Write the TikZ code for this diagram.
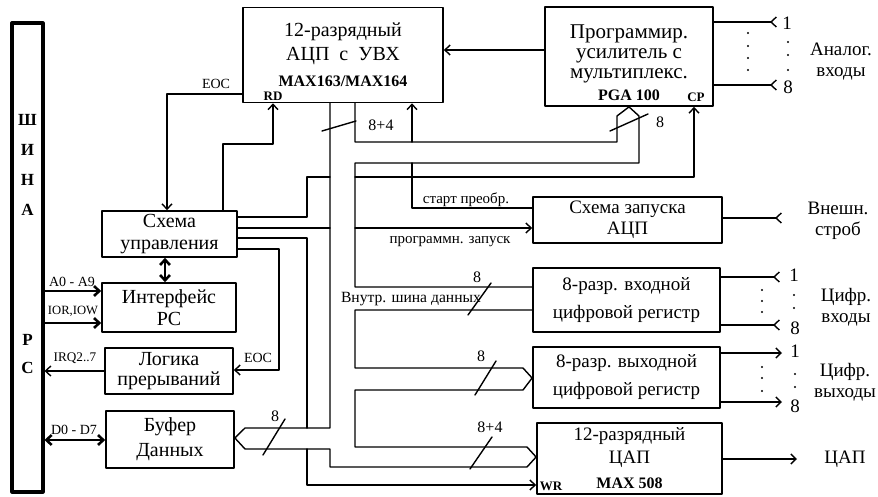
\documentclass[tikz,border=0pt]{standalone}
\usepackage{fontspec}
\setmainfont{Liberation Serif}
\usetikzlibrary{arrows.meta}
\lineskiplimit=-20pt
\begin{document}
\begin{tikzpicture}[x=.5pt,y=-.5pt,>={Straight Barb[length=2.6pt,width=5pt]},
	line width=.7pt, line join=round, line cap=round, font=\fontsize{10}{11}\selectfont]
	\tikzset{blk/.style={draw,line width=.9pt,inner sep=0pt,align=center},
		lbl/.style={font=\fontsize{7.5}{9}\selectfont,inner sep=0pt},
		sig/.style={font=\fontsize{7}{8}\selectfont,inner sep=0pt},
		wid/.style={font=\fontsize{8}{9}\selectfont,inner sep=0pt},
		pinlbl/.style={font=\bfseries\fontsize{6.5}{7}\selectfont,inner sep=0pt},
		inp/.style={-{Straight Barb[reversed,length=2.6pt,width=5pt]}},
		fat/.style={line width=1.3pt},
		side/.style={align=center,inner sep=0pt,font=\fontsize{9.5}{10.5}\selectfont}}
	\useasboundingbox (0,0) rectangle (878,497);
	% PC bus
	\node[draw,line width=1.6pt,inner sep=0pt,minimum width=15.5pt,minimum height=234.5pt] (bus) at (27.5,257.5) {};
	\node[align=center,inner sep=0pt,font=\bfseries\fontsize{8.5}{15}\selectfont] (shina) at (27.5,165) {Ш\\И\\Н\\А};
	\node[align=center,inner sep=0pt,font=\bfseries\fontsize{8.5}{14}\selectfont] (pc) at (27.5,354) {P\\C};
	% blocks
	\node[blk,minimum width=100pt,minimum height=47.5pt,font=\fontsize{10}{12}\selectfont] (adc) at (343,55)
		{12-разрядный\\АЦП\enspace с\enspace УВХ\\[1pt]{\bfseries\fontsize{8}{9.5}\selectfont MAX163/MAX164}};
	\node[blk,minimum width=84pt,minimum height=49.5pt] (pga) at (629,56.5) {};
	\node[align=center,inner sep=0pt,font=\fontsize{10.5}{10}\selectfont] (pgat) at (629,63)
		{Программир.\\усилитель с\\мультиплекс.\\[1pt]{\bfseries\fontsize{8}{9.5}\selectfont PGA 100}};
	\node[blk,minimum width=67.5pt,minimum height=23pt] (ctl) at (169.5,234) {Схема\\управления};
	\node[blk,minimum width=67pt,minimum height=24.5pt] (iface) at (169,307.5) {Интерфейс\\PC};
	\node[blk,minimum width=64pt,minimum height=23pt,font=\fontsize{10}{10}\selectfont] (irq) at (169,371) {Логика\\прерываний};
	\node[blk,minimum width=64pt,minimum height=28.5pt,font=\fontsize{10}{12.5}\selectfont] (buf) at (170,439.5) {Буфер\\Данных};
	\node[blk,minimum width=94.5pt,minimum height=23pt,font=\fontsize{9.5}{10.5}\selectfont] (start) at (627.5,220) {Схема запуска\\АЦП};
	\node[blk,minimum width=93.5pt,minimum height=32pt,font=\fontsize{9.5}{14}\selectfont] (din) at (626.5,300) {8-разр. входной\\цифровой регистр};
	\node[blk,minimum width=93.5pt,minimum height=30.5pt,font=\fontsize{9.5}{14}\selectfont] (dout) at (626.5,377.5) {8-разр. выходной\\цифровой регистр};
	\node[blk,minimum width=92.5pt,minimum height=35.5pt,font=\fontsize{9.5}{11.5}\selectfont] (dac) at (629.5,458.5)
		{12-разрядный\\ЦАП\\[1pt]{\bfseries\fontsize{8}{9.5}\selectfont MAX 508}};
	\node[pinlbl] (rd) at (273,96) {RD};
	\node[pinlbl] (cp) at (696,97) {CP};
	\node[pinlbl] (wr) at (551,486) {WR};
	% internal data bus
	\draw (buf.east |- 0,438) -- (245,428) -- (330,428) -- (adc.south -| 330,0)
		(adc.south -| 355,0) -- (355,142) -- (617,142) -- (617,116) -- (pga.south -| 629,0) -- (639,116)
		-- (639,163) -- (355,163) -- (355,287) -- (din.west |- 0,287)
		(din.west |- 0,310) -- (355,310) -- (355,368) -- (523,368) -- (dout.west |- 0,378) -- (523,390)
		-- (355,390) -- (355,447) -- (527,447) -- (dac.west |- 0,457) -- (527,467) -- (330,467)
		-- (330,449) -- (245,449) -- (buf.east |- 0,438);
	\draw (322,131) -- (356,121); \node[wid] (w1) at (381,125) {8+4};
	\draw (610,131) -- (648,114); \node[wid] (w2) at (660,122) {8};
	\draw (468,315) -- (491,283); \node[wid] (w3) at (477,277) {8};
	\draw (475,395) -- (496,361); \node[wid] (w4) at (481,356) {8};
	\draw (470,469) -- (492,437); \node[wid] (w5) at (490,427) {8+4};
	\draw (263,455) -- (285,419); \node[wid] (w6) at (275,416) {8};
	\node[lbl,font=\fontsize{7.8}{9}\selectfont] (ibus) at (411,299) {Внутр. шина данных};
	% control lines
	\draw[->] (pga.west |- 0,50) -- (adc.east |- 0,50);
	\draw[->] (adc.west |- 0,94) -| (ctl.north -| 167,0);
	\draw[->] (ctl.north -| 223,0) |- (273,144) -- (adc.south -| 273,0);
	\draw[->] (ctl.east |- 0,217) -| (307,177) -- (330,177) (355,177) -| (pga.south -| 694,0);
	\draw[->] (ctl.east |- 0,228) -- (330,228) (355,228) -- (start.west |- 0,228);
	\draw[->] (ctl.east |- 0,238) -| (307,428) (307,449) |- (dac.west |- 0,485);
	\draw[->] (ctl.east |- 0,249) -| (279,370) -- (irq.east |- 0,370);
	\draw[->] (start.west |- 0,208) -| (412,163) (412,142) -- (adc.south -| 412,0);
	\draw[fat,<->] (ctl.south -| 165,0) -- (iface.north -| 165,0);
	\node[sig] (eoc1) at (216,84) {EOC};
	\node[sig] (eoc2) at (258,358) {EOC};
	\node[lbl] (startl) at (466,200) {старт преобр.};
	\node[lbl] (progl) at (450,242) {программн. запуск};
	% PC side
	\draw[fat,->] (bus.east |- 0,291) -- (iface.west |- 0,291);
	\draw[fat,->] (bus.east |- 0,323) -- (iface.west |- 0,323);
	\draw[->] (irq.west |- 0,371) -- (bus.east |- 0,371);
	\draw[fat,<->] (bus.east |- 0,440) -- (buf.west |- 0,440);
	\node[sig] (a09) at (72,282) {A0 - A9};
	\node[sig,font=\fontsize{6.3}{8}\selectfont] (iorw) at (73,311) {IOR,IOW};
	\node[sig,font=\fontsize{6.6}{8}\selectfont] (irql) at (75,358) {IRQ2..7};
	\node[sig] (d07) at (74,430) {D0 - D7};
	% outer inputs and outputs
	\draw[inp] (pga.east |- 0,22) -- (777,22);
	\draw[inp] (pga.east |- 0,85) -- (777,85);
	\draw[inp] (start.east |- 0,218) -- (782,218);
	\draw[inp] (din.east |- 0,277) -- (780,277);
	\draw[inp] (din.east |- 0,325) -- (780,325);
	\draw[->] (dout.east |- 0,353) -- (782,353);
	\draw[->] (dout.east |- 0,402) -- (782,402);
	\draw[->] (dac.east |- 0,459) -- (797,459);
	\node[side] (a1) at (787,23) {1};
	\node[side] (a8) at (788,87) {8};
	\node[side] (i1) at (794,275) {1};
	\node[side] (i8) at (795,328) {8};
	\node[side] (o1) at (795,351) {1};
	\node[side] (o8) at (795,406) {8};
	\foreach \y in {33,46,58,70} \fill (748,\y) circle (.6pt);
	\foreach \y in {42,55,70} \fill (788,\y) circle (.6pt);
	\foreach \y in {290,301,312} \fill (762,\y) circle (.6pt);
	\foreach \y in {295,308} \fill (794,\y) circle (.6pt);
	\foreach \y in {367,378,391} \fill (762,\y) circle (.6pt);
	\foreach \y in {374,387} \fill (795,\y) circle (.6pt);
	\node[side] (analog) at (841,62) {Аналог.\\входы};
	\node[side] (strob) at (838,221) {Внешн.\\строб};
	\node[side] (dinl) at (846,307) {Цифр.\\входы};
	\node[side] (doutl) at (845,382) {Цифр.\\выходы};
	\node[side] (dacl) at (845,459) {ЦАП};
\end{tikzpicture}
\end{document}
